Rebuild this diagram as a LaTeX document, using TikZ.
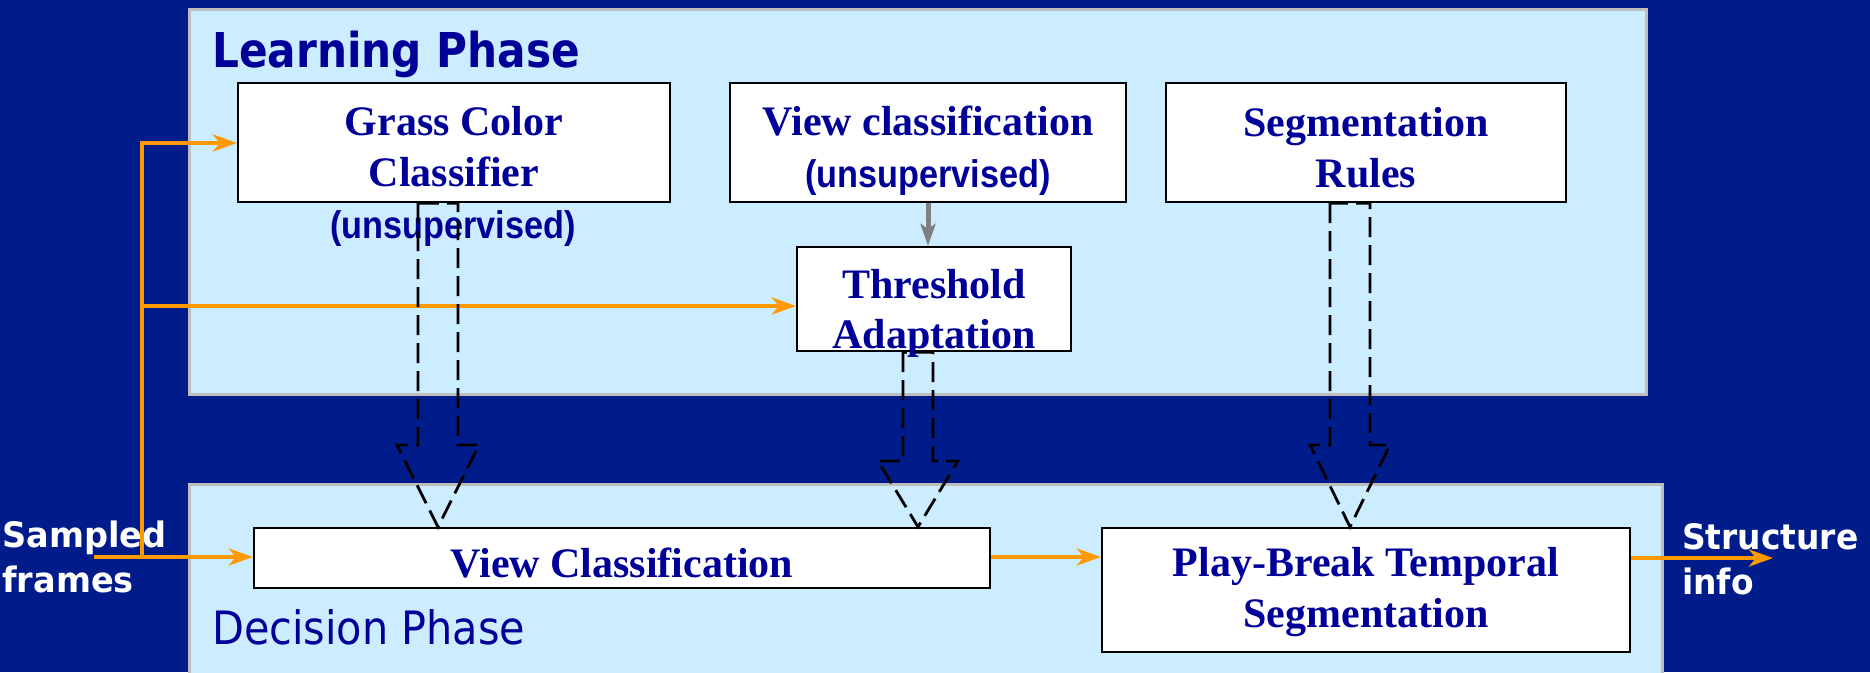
\documentclass[tikz,border=0pt]{standalone}
\usepackage{fontspec}
\setmainfont{Liberation Serif}
\newfontfamily\dejavu{DejaVu Sans}
\newfontfamily\libsans{Liberation Sans}
\usetikzlibrary{arrows.meta,calc}

\definecolor{bgblue}{RGB}{0,28,138}
\definecolor{panelblue}{RGB}{204,236,255}
\definecolor{panelrule}{RGB}{190,190,190}
\definecolor{navy}{RGB}{0,0,153}
\definecolor{flow}{RGB}{255,153,0}

\newcommand\titlefont{\dejavu\bfseries\fontsize{48}{56}\selectfont}
\newcommand\phasefont{\dejavu\fontsize{46}{54}\selectfont}
\newcommand\iofont{\dejavu\bfseries\fontsize{35}{42}\selectfont}
\newcommand\notefont{\libsans\bfseries\fontsize{38.5}{46}\selectfont}

\begin{document}
\begin{tikzpicture}[x=1pt,y=-1pt,
  panel/.style={fill=panelblue,draw=panelrule,line width=3pt},
  stagebox/.style={draw=black,fill=white,line width=2.2pt,inner sep=0pt},
  boxtext/.style={text=navy,font=\fontsize{42}{50}\selectfont\bfseries,inner sep=0pt,anchor=base},
  notetext/.style={text=navy,inner sep=0pt,anchor=base},
  iotext/.style={text=white,inner sep=0pt,anchor=base west},
  flowarrow/.style={draw=flow,line width=4.5pt,line join=miter,-{Stealth[length=24pt,width=17pt,inset=7pt]}},
  hintarrow/.style={draw=gray,line width=5pt,-{Stealth[length=22pt,width=15pt,inset=5pt]}},
  feedarrow/.style={draw=black,line width=2.8pt,dash pattern=on 20pt off 8pt,line join=miter},
]
% page and background
\useasboundingbox (0,0) rectangle (1870,672);
\fill[bgblue] (0,0) rectangle (1870,672);

% the two phase panels
\draw[panel] (189,9) rectangle (1646,394);
\draw[panel] (189,484) rectangle (1662,700);
\node[notetext,anchor=base west,text=navy] (learnlbl) at (212,67) {\scalebox{0.88}[1]{\titlefont Learning Phase}};
\node[notetext,anchor=base west,text=navy] (decidelbl) at (212,644) {\scalebox{0.9}[1]{\phasefont Decision Phase}};

% stage boxes
\node[stagebox,minimum width=432pt,minimum height=119pt] (grass) at (454,142.5) {};
\node[stagebox,minimum width=396pt,minimum height=119pt] (viewcls) at (928,142.5) {};
\node[stagebox,minimum width=400pt,minimum height=119pt] (segrules) at (1366,142.5) {};
\node[stagebox,minimum width=274pt,minimum height=104pt] (thresh) at (934,299) {};
\node[stagebox,minimum width=736pt,minimum height=60pt] (viewc) at (622,558) {};
\node[stagebox,minimum width=528pt,minimum height=124pt] (playbreak) at (1366,590) {};

% box texts
\node[boxtext] (grass1) at (454,135) {Grass Color};
\node[boxtext] (grass2) at (454,186) {Classifier};
\node[notetext] (grassnote) at (453,238) {\scalebox{0.89}[1]{\notefont (unsupervised)}};
\node[boxtext] (viewcls1) at (928,135) {View classification};
\node[notetext] (viewcls2) at (928,187) {\scalebox{0.89}[1]{\notefont (unsupervised)}};
\node[boxtext] (segrules1) at (1366,136) {Segmentation};
\node[boxtext] (segrules2) at (1366,187) {Rules};
\node[boxtext] (thresh1) at (934,298) {Threshold};
\node[boxtext] (thresh2) at (934,348) {Adaptation};
\node[boxtext] (viewc1) at (622,577) {View Classification};
\node[boxtext] (playbreak1) at (1366,576) {Play-Break Temporal};
\node[boxtext] (playbreak2) at (1366,627) {Segmentation};

% input and output labels
\node[iotext] (inlbl1) at (2,547) {\scalebox{0.96}[1]{\iofont Sampled}};
\node[iotext] (inlbl2) at (2,592) {\scalebox{0.96}[1]{\iofont frames}};
\node[iotext] (outlbl1) at (1682,549) {\scalebox{0.94}[1]{\iofont Structure}};
\node[iotext] (outlbl2) at (1682,594) {\scalebox{0.94}[1]{\iofont info}};

% frame flow
\coordinate (src) at (94,557);
\coordinate (split) at (142,557);
\coordinate (top) at (142,143);
\coordinate (mid) at (142,306);
\coordinate (out) at (1773,558);
\draw[flowarrow] (src) -- (src -| viewc.west);
\draw[flowarrow] (split) -- (top) -- (top -| grass.west);
\draw[flowarrow] (mid) -- (mid -| thresh.west);
\draw[flowarrow] (viewc.east |- src) -- (playbreak.west |- src);
\draw[flowarrow] (playbreak.east |- out) -- (out);

% view classification feeds threshold adaptation
\draw[hintarrow] (viewcls.south) -- (viewcls.south |- thresh.north);

% learned models handed to the decision phase
\coordinate (gax) at (438,0);
\coordinate (tax) at (918,0);
\coordinate (sax) at (1350,0);
\draw[feedarrow] ($(grass.south -| gax)+(-20,0)$) -- ($(viewc.north -| gax)+(-20,-82)$) -- ++(-21,0)
  -- (viewc.north -| gax) -- ($(viewc.north -| gax)+(41,-82)$) -- ++(-21,0)
  -- ($(grass.south -| gax)+(20,0)$) -- cycle;
\draw[feedarrow] ($(thresh.south -| tax)+(-15,0)$) -- ($(viewc.north -| tax)+(-15,-66)$) -- ++(-25,0)
  -- (viewc.north -| tax) -- ($(viewc.north -| tax)+(40,-66)$) -- ++(-25,0)
  -- ($(thresh.south -| tax)+(15,0)$) -- cycle;
\draw[feedarrow] ($(segrules.south -| sax)+(-20,0)$) -- ($(playbreak.north -| sax)+(-20,-82)$) -- ++(-20,0)
  -- (playbreak.north -| sax) -- ($(playbreak.north -| sax)+(40,-82)$) -- ++(-20,0)
  -- ($(segrules.south -| sax)+(20,0)$) -- cycle;
\end{tikzpicture}
\end{document}
